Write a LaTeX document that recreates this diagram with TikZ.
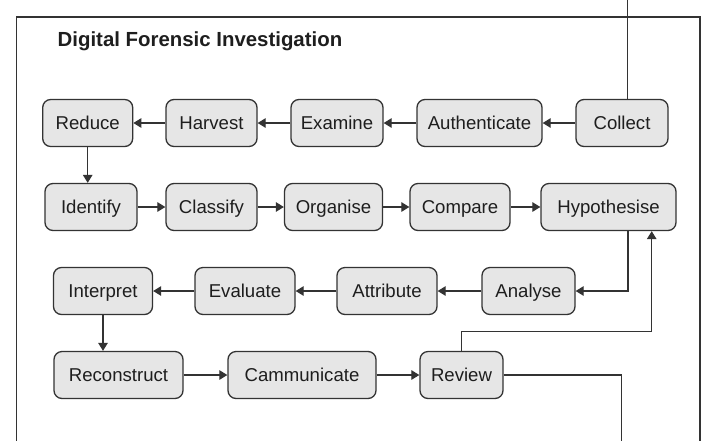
\documentclass[tikz,border=0pt]{standalone}
\usepackage{fontspec}
\setmainfont{Liberation Sans}
\usetikzlibrary{arrows.meta,calc}
\definecolor{boxfill}{HTML}{E6E6E6}
\definecolor{linec}{HTML}{333333}
\definecolor{textc}{HTML}{1E1E1E}
\tikzset{
  stepbox/.style={draw=linec, line width=1.3pt, fill=boxfill, rounded corners=8pt,
    minimum height=47pt, inner sep=0pt, text=textc, text height=13.2pt, text depth=0pt,
    font=\fontsize{18.6pt}{20pt}\selectfont},
  conn/.style={draw=linec, line width=1.2pt},
  arr/.style={conn, -{Triangle[length=8pt,width=9.5pt]}},
}
\begin{document}
\begin{tikzpicture}[x=1pt,y=-1pt]
\useasboundingbox (0,0) rectangle (703,440);
% frame
\draw[conn] (16.5,445) -- (16.5,17) -- (700,17) -- (700,445);
\node[anchor=base west, inner sep=0pt, text=textc, font=\bfseries\fontsize{20.4pt}{22pt}\selectfont] (title) at (57.5,46) {Digital Forensic Investigation};
% row 1
\node[stepbox, minimum width=90pt] (reduce) at (87.7,123) {Reduce};
\node[stepbox, minimum width=91pt] (harvest) at (211.5,123) {Harvest};
\node[stepbox, minimum width=92pt] (examine) at (337,123) {Examine};
\node[stepbox, minimum width=125pt] (auth) at (479.5,123) {Authenticate};
\node[stepbox, minimum width=92pt] (collect) at (622,123) {Collect};
% row 2
\node[stepbox, minimum width=92pt] (identify) at (91,207) {Identify};
\node[stepbox, minimum width=91pt] (classify) at (211.5,207) {Classify};
\node[stepbox, minimum width=98pt] (organise) at (333.5,207) {Organise};
\node[stepbox, minimum width=100pt] (compare) at (460,207) {Compare};
\node[stepbox, minimum width=135pt] (hyp) at (608.5,207) {Hypothesise};
% row 3
\node[stepbox, minimum width=99pt] (interpret) at (103,291) {Interpret};
\node[stepbox, minimum width=100pt] (evaluate) at (245,291) {Evaluate};
\node[stepbox, minimum width=100pt] (attribute) at (387,291) {Attribute};
\node[stepbox, minimum width=93pt] (analyse) at (528.5,291) {Analyse};
% row 4
\node[stepbox, minimum width=129pt] (reconstruct) at (118.5,375) {Reconstruct};
\node[stepbox, minimum width=148pt] (cammunicate) at (302,375) {Cammunicate};
\node[stepbox, minimum width=83pt] (review) at (461.5,375) {Review};
% free ends
\coordinate (ctop) at (627.5,-5);
\coordinate (rv) at (651.7,331.7);
\coordinate (rout) at (621.5,445);
% connectors
\draw[conn] (collect.north -| ctop) -- (ctop);
\draw[arr] (collect) -- (auth);
\draw[arr] (auth) -- (examine);
\draw[arr] (examine) -- (harvest);
\draw[arr] (harvest) -- (reduce);
\draw[arr] (reduce.south) -- (reduce.south |- identify.north);
\draw[arr] (identify) -- (classify);
\draw[arr] (classify) -- (organise);
\draw[arr] (organise) -- (compare);
\draw[arr] (compare) -- (hyp);
\draw[arr] ($(hyp.south)+(19.5,0)$) |- (analyse.east);
\draw[arr] (analyse) -- (attribute);
\draw[arr] (attribute) -- (evaluate);
\draw[arr] (evaluate) -- (interpret);
\draw[arr] (interpret.south) -- (interpret.south |- reconstruct.north);
\draw[arr] (reconstruct) -- (cammunicate);
\draw[arr] (cammunicate) -- (review);
\draw[arr] (review.north) |- (rv) -- (rv |- hyp.south);
\draw[conn] (review.east) -| (rout);
\end{tikzpicture}
\end{document}
